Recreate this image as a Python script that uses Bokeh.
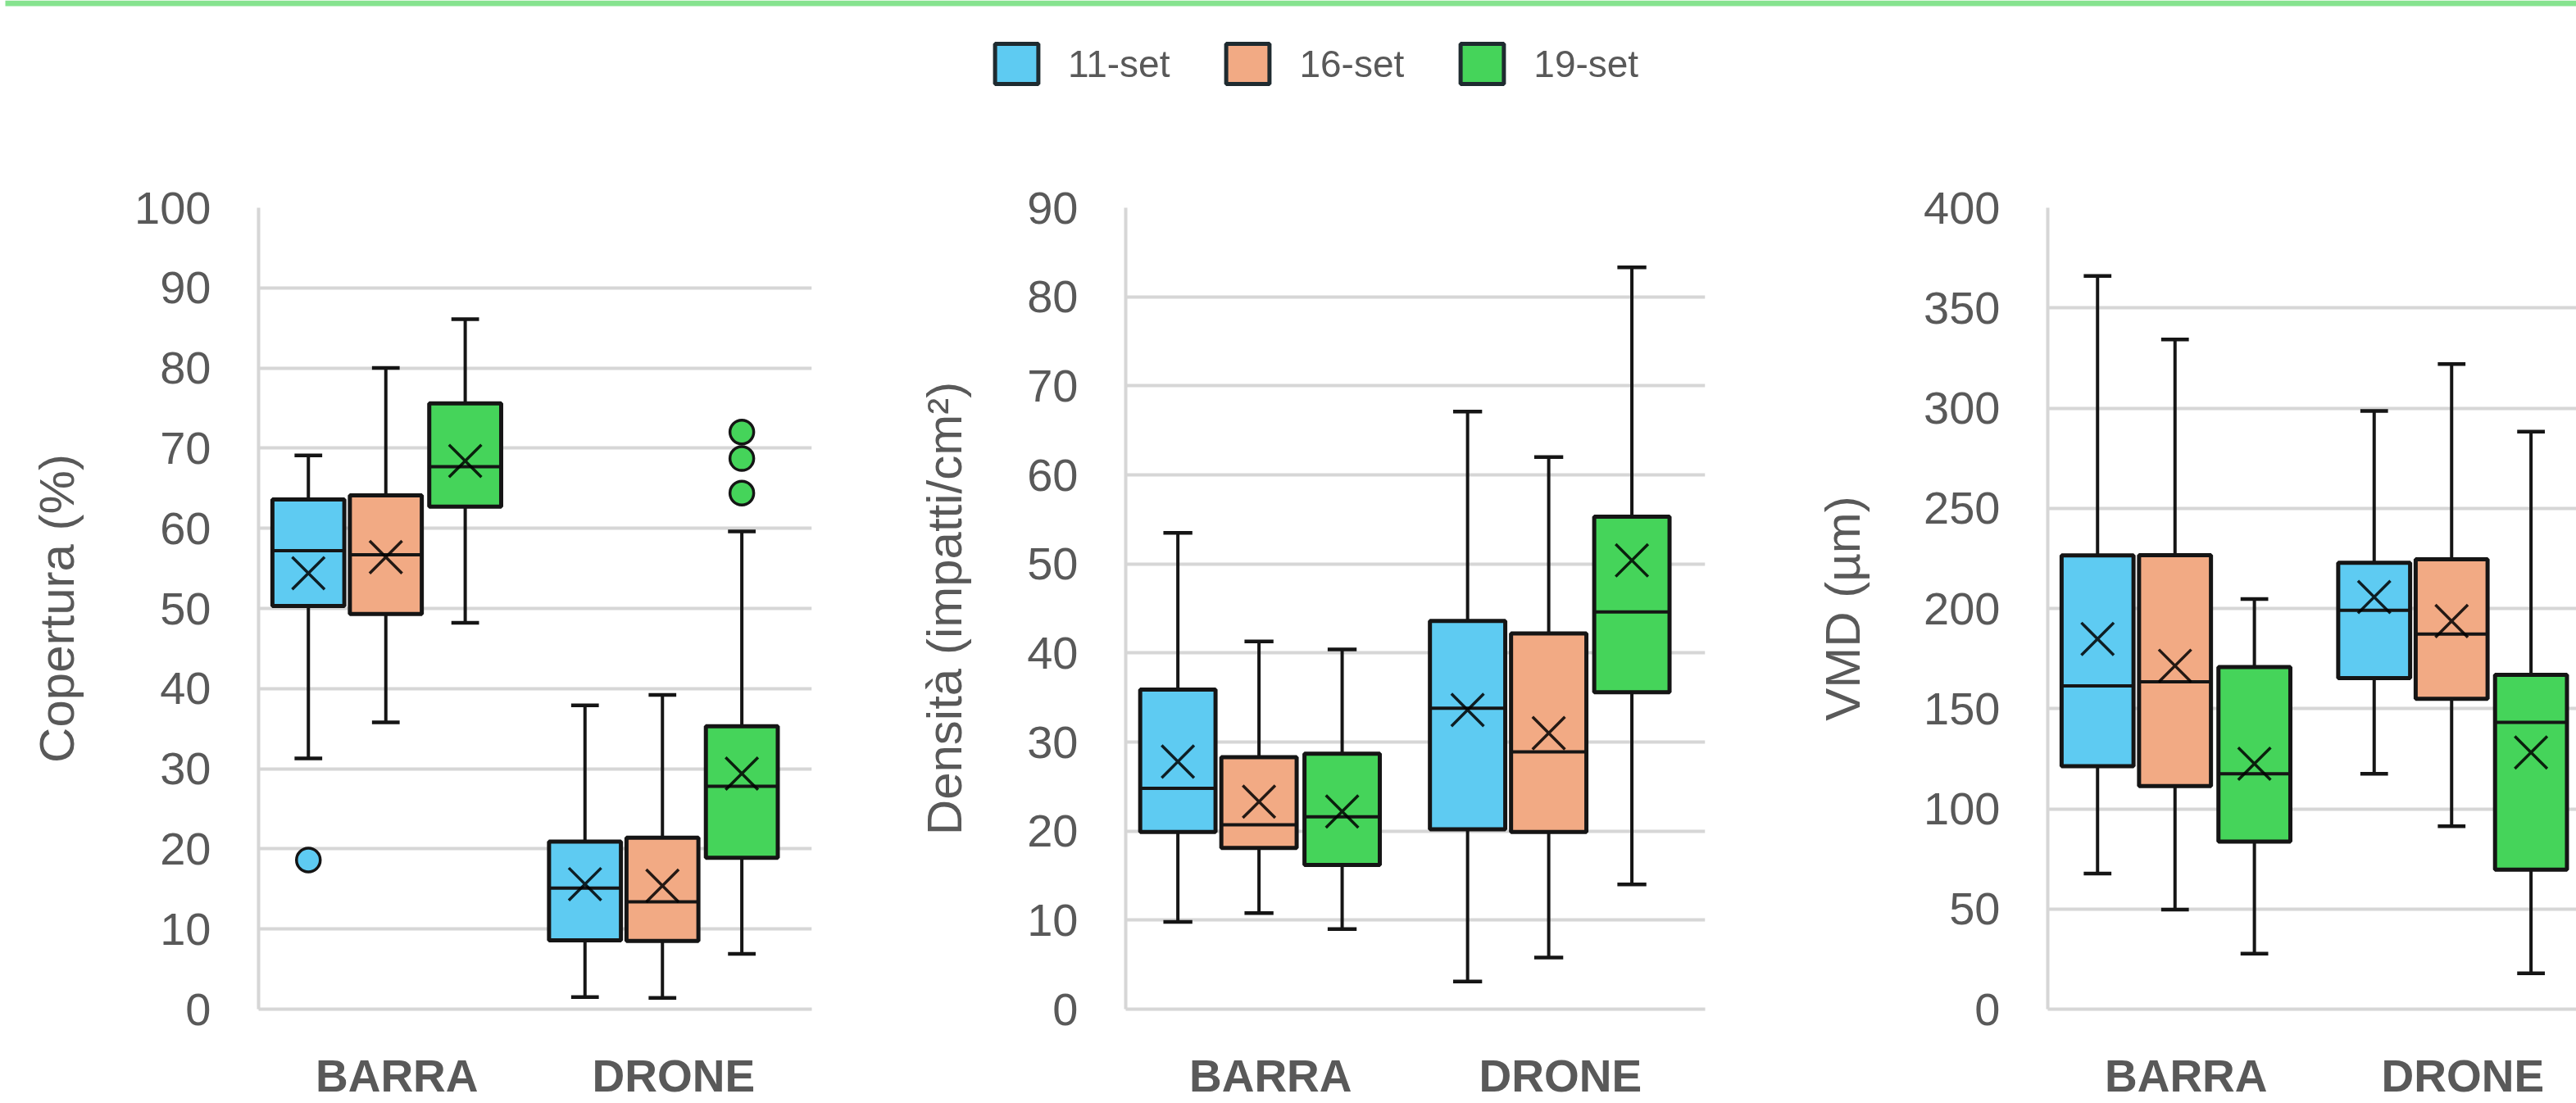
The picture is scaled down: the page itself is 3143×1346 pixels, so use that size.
from bokeh.plotting import figure
from bokeh.models import ColumnDataSource, Range1d, FixedTicker, Legend, LegendItem, BoxAnnotation
from bokeh.layouts import column, row
from bokeh.embed import file_html
from bokeh.resources import INLINE

# ---------------- data ----------------
categories = ["BARRA", "DRONE"]
series = ["11-set", "16-set", "19-set"]
series_colors = ["#5ECBF2", "#F2AA84", "#45D45A"]

# order of every stats list: BARRA 11-set, 16-set, 19-set, then DRONE 11-set, 16-set, 19-set
cop_low = [31.3, 35.8, 48.2, 1.5, 1.4, 6.9]
cop_q1 = [50.3, 49.3, 62.7, 8.6, 8.5, 18.9]
cop_median = [57.2, 56.7, 67.7, 15.1, 13.4, 27.8]
cop_q3 = [63.6, 64.1, 75.6, 20.9, 21.4, 35.3]
cop_high = [69.1, 80.0, 86.1, 37.9, 39.2, 59.6]
cop_mean = [54.4, 56.4, 68.4, 15.6, 15.4, 29.4]
cop_out_cat = ["BARRA", "DRONE", "DRONE", "DRONE"]
cop_out_series = ["11-set", "19-set", "19-set", "19-set"]
cop_out_value = [18.6, 72.0, 68.7, 64.4]
cop_ticks = [0, 10, 20, 30, 40, 50, 60, 70, 80, 90, 100]

den_low = [9.8, 10.8, 9.0, 3.1, 5.8, 14.0]
den_q1 = [19.9, 18.1, 16.2, 20.2, 19.9, 35.6]
den_median = [24.8, 20.7, 21.6, 33.8, 28.9, 44.6]
den_q3 = [35.9, 28.3, 28.7, 43.6, 42.2, 55.3]
den_high = [53.5, 41.3, 40.4, 67.1, 62.0, 83.3]
den_mean = [27.8, 23.3, 22.2, 33.6, 31.0, 50.4]
den_out_cat = []
den_out_series = []
den_out_value = []
den_ticks = [0, 10, 20, 30, 40, 50, 60, 70, 80, 90]

vmd_low = [67.7, 49.7, 27.7, 117.5, 91.3, 17.9]
vmd_q1 = [121.3, 111.3, 83.6, 165.2, 154.9, 69.6]
vmd_median = [161.3, 163.4, 117.5, 199.1, 187.2, 143.1]
vmd_q3 = [226.5, 226.6, 170.8, 222.8, 224.5, 166.9]
vmd_high = [366.0, 334.3, 204.7, 298.6, 322.0, 288.2]
vmd_mean = [184.8, 171.4, 122.5, 205.7, 193.7, 128.1]
vmd_out_cat = []
vmd_out_series = []
vmd_out_value = []
vmd_ticks = [0, 50, 100, 150, 200, 250, 300, 350, 400]

# ---------------- style ----------------
FONT = "Liberation Sans"
TEXT = "#595959"
GRID = "#d6d6d6"
EDGE = "#151515"
OFFSETS = [-0.32, -0.04, 0.247]
BOX_W = 0.26
CAP_W = 0.1
CAT_PX = 337.5


def panel(title, ticks, low, q1, med, q3, high, mean, out_cat, out_series, out_val,
          width, left, right, frame_w, title_standoff):
    xmax = 2.0 if frame_w != 645 else frame_w / CAT_PX
    p = figure(width=width, height=1146, x_range=Range1d(0, xmax),
               y_range=Range1d(ticks[0], ticks[-1]),
               min_border_left=left, min_border_right=right,
               min_border_top=53, min_border_bottom=112,
               output_backend="svg", toolbar_location=None,
               outline_line_color=None, background_fill_color="white",
               border_fill_color="white")
    n = len(categories)
    for j, s in enumerate(series):
        ids = [i * len(series) + j for i in range(n)]
        xs = [i + 0.5 + OFFSETS[j] for i in range(n)]
        src = ColumnDataSource(dict(
            x=xs,
            xl=[x - BOX_W / 2 for x in xs], xr=[x + BOX_W / 2 for x in xs],
            cl=[x - CAP_W / 2 for x in xs], cr=[x + CAP_W / 2 for x in xs],
            low=[low[k] for k in ids], q1=[q1[k] for k in ids],
            med=[med[k] for k in ids], q3=[q3[k] for k in ids],
            high=[high[k] for k in ids], mean=[mean[k] for k in ids]))
        p.segment(x0="x", y0="low", x1="x", y1="high", line_color=EDGE, line_width=4, source=src)
        p.segment(x0="cl", y0="low", x1="cr", y1="low", line_color=EDGE, line_width=4.5, source=src)
        p.segment(x0="cl", y0="high", x1="cr", y1="high", line_color=EDGE, line_width=4.5, source=src)
        p.vbar(x="x", width=BOX_W, bottom="q1", top="q3", fill_color=series_colors[j],
               line_color=EDGE, line_width=5, source=src)
        p.segment(x0="xl", y0="med", x1="xr", y1="med", line_color=EDGE, line_width=4, source=src)
        p.scatter(x="x", y="mean", marker="x", size=56, line_color="#000000",
                  line_width=3.5, line_alpha=0.85, source=src)
        ox = [categories.index(c) + 0.5 + OFFSETS[j]
              for c, ss in zip(out_cat, out_series) if ss == s]
        oy = [v for c, ss, v in zip(out_cat, out_series, out_val) if ss == s]
        if ox:
            p.scatter(x=ox, y=oy, marker="circle", size=29, fill_color=series_colors[j],
                      line_color=EDGE, line_width=3.5)

    p.xgrid.grid_line_color = None
    p.ygrid.grid_line_color = GRID
    p.ygrid.grid_line_width = 4
    p.ygrid.ticker = FixedTicker(ticks=ticks)

    xa = p.xaxis[0]
    xa.ticker = FixedTicker(ticks=[i + 0.5 for i in range(n)])
    xa.major_label_overrides = {i + 0.5: c for i, c in enumerate(categories)}
    xa.axis_line_color = GRID
    xa.axis_line_width = 4
    xa.major_tick_line_color = None
    xa.minor_tick_line_color = None
    xa.major_tick_out = 0
    xa.major_tick_in = 0
    xa.major_label_standoff = 50
    xa.major_label_text_font = FONT
    xa.major_label_text_font_size = "55px"
    xa.major_label_text_font_style = "bold"
    xa.major_label_text_color = TEXT

    ya = p.yaxis[0]
    ya.ticker = FixedTicker(ticks=ticks)
    ya.axis_line_color = GRID
    ya.axis_line_width = 4
    ya.major_tick_line_color = None
    ya.minor_tick_line_color = None
    ya.major_tick_out = 0
    ya.major_tick_in = 0
    ya.major_label_standoff = 58
    ya.major_label_text_font = FONT
    ya.major_label_text_font_size = "56px"
    ya.major_label_text_color = TEXT
    ya.axis_label = title
    ya.axis_label_text_font = FONT
    ya.axis_label_text_font_size = "60px"
    ya.axis_label_text_font_style = "normal"
    ya.axis_label_text_color = TEXT
    ya.axis_label_standoff = title_standoff
    return p


p1 = panel("Copertura (%)", cop_ticks, cop_low, cop_q1, cop_median, cop_q3, cop_high, cop_mean,
           cop_out_cat, cop_out_series, cop_out_value, 1040, 315, 50, 675, 58)
p2 = panel("Densità (impatti/cm²)", den_ticks, den_low, den_q1, den_median, den_q3, den_high, den_mean,
           den_out_cat, den_out_series, den_out_value, 1090, 333, 50, 707, 64)
p3 = panel("VMD (µm)", vmd_ticks, vmd_low, vmd_q1, vmd_median, vmd_q3, vmd_high, vmd_mean,
           vmd_out_cat, vmd_out_series, vmd_out_value, 1013, 368, 0, 645, 62)

# ---------------- legend strip ----------------
lf = figure(width=3143, height=200, x_range=Range1d(0, 3143), y_range=Range1d(0, 200),
            x_axis_type=None, y_axis_type=None, min_border=0,
            output_backend="svg", toolbar_location=None, outline_line_color=None)
lf.add_layout(BoxAnnotation(left=6, right=3143, bottom=193, top=200,
                            fill_color="#86E38F", fill_alpha=1, line_color=None))
items = []
for s, c in zip(series, series_colors):
    # legend proxy only (hidden renderer, its glyph is shown in the legend)
    r = lf.vbar(x=[0], top=[0], width=0, fill_color=c, line_color="#1f2b30",
                line_width=5, visible=False)
    items.append(LegendItem(label=s, renderers=[r]))
leg = Legend(items=items, orientation="horizontal", location=(1207, 91),
             glyph_width=66, glyph_height=61, label_height=63, label_standoff=30,
             spacing=62, padding=0, margin=0, border_line_color=None,
             background_fill_alpha=0, inactive_fill_alpha=0,
             label_text_font=FONT, label_text_font_size="46px",
             label_text_color=TEXT)
lf.add_layout(leg)

layout = column(lf, row(p1, p2, p3, spacing=0), spacing=0,
                styles={"position": "fixed", "left": "0px", "top": "0px"})

open("out.html", "w").write(file_html(layout, INLINE))
